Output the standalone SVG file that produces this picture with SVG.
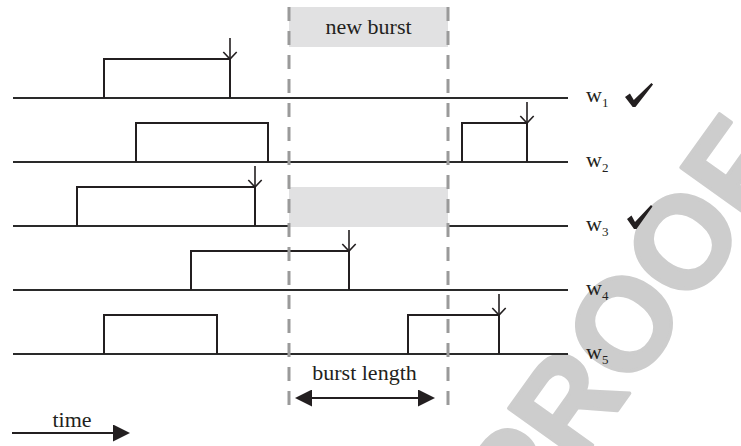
<svg xmlns="http://www.w3.org/2000/svg" width="741" height="446" viewBox="0 0 741 446">
  <defs>
    <style>
      .base { stroke: #2a2a2a; stroke-width: 1.8; fill: none; }
      .burst { stroke: #231f20; stroke-width: 2; fill: none; }
      .drop { stroke: #231f20; stroke-width: 1.6; fill: none; marker-end: url(#vhead); }
      .slot { fill: #e1e1e2; stroke: none; }
      .guide { stroke: #9a9a9a; stroke-width: 3; stroke-dasharray: 14 10; fill: none; }
      .dim { stroke: #231f20; stroke-width: 2; fill: none; }
      .lbl { font-family: "Liberation Serif", "Times New Roman", serif; fill: #231f20; }
      .big { font-size: 22px; }
      .w { font-size: 22px; }
      .sub { font-size: 13px; }
      .tick { fill: #231f20; }
      .mark { font-family: "Liberation Sans", Arial, sans-serif; font-weight: bold; font-size: 130px; fill: #cdcdcd; stroke: #cdcdcd; stroke-width: 3.5; stroke-linejoin: round; }
    </style>
    <marker id="vhead" markerUnits="userSpaceOnUse" viewBox="-1 -1 10 16" refX="7" refY="6.7" markerWidth="10" markerHeight="16" orient="auto">
      <path d="M0,0 L7,6.7 L0,13.4" fill="none" stroke="#231f20" stroke-width="1.6"/>
    </marker>
    <marker id="fhead" markerUnits="userSpaceOnUse" viewBox="0 0 17 17" refX="15" refY="8.5" markerWidth="17" markerHeight="17" orient="auto-start-reverse">
      <path d="M0,0 L17,8.5 L0,17 Z" fill="#231f20"/>
    </marker>
    <path id="check" d="M0,14 L4.5,10.5 L8,17 L24,0 L25.5,1.5 L9.5,24 L7,24 Z"/>
  </defs>

  <!-- watermark -->
  <text class="mark" transform="translate(526,538) rotate(-54.4)">PROOF</text>

  <!-- channel w1 -->
  <g id="w1">
    <line class="base" x1="13" y1="98" x2="568" y2="98"/>
    <polyline class="burst" points="104,98 104,59 230,59 230,98"/>
    <line class="drop" x1="230" y1="38" x2="230" y2="59"/>
    <text class="lbl w" x="586" y="102">w<tspan class="sub" dy="5">1</tspan></text>
    <use href="#check" class="tick" transform="translate(625,83) scale(1.1,1)"/>
  </g>

  <!-- channel w2 -->
  <g id="w2">
    <line class="base" x1="13" y1="162" x2="568" y2="162"/>
    <polyline class="burst" points="136,162 136,123 268,123 268,162"/>
    <polyline class="burst" points="462,162 462,123 527,123 527,162"/>
    <line class="drop" x1="527" y1="102" x2="527" y2="123"/>
    <text class="lbl w" x="586" y="167">w<tspan class="sub" dy="5">2</tspan></text>
  </g>

  <!-- channel w3 -->
  <g id="w3">
    <line class="base" x1="13" y1="226" x2="568" y2="226"/>
    <polyline class="burst" points="77,226 77,187 255,187 255,226"/>
    <line class="drop" x1="255" y1="166" x2="255" y2="187"/>
    <rect class="slot" x="289" y="187" width="159" height="40"/>
    <text class="lbl w" x="586" y="231">w<tspan class="sub" dy="5">3</tspan></text>
    <use href="#check" class="tick" transform="translate(627,205)"/>
  </g>

  <!-- channel w4 -->
  <g id="w4">
    <line class="base" x1="13" y1="290" x2="568" y2="290"/>
    <polyline class="burst" points="191,290 191,251 349,251 349,290"/>
    <line class="drop" x1="349" y1="230" x2="349" y2="251"/>
    <text class="lbl w" x="586" y="295">w<tspan class="sub" dy="5">4</tspan></text>
  </g>

  <!-- channel w5 -->
  <g id="w5">
    <line class="base" x1="13" y1="354" x2="568" y2="354"/>
    <polyline class="burst" points="104,354 104,315 217,315 217,354"/>
    <polyline class="burst" points="408,354 408,315 499,315 499,354"/>
    <line class="drop" x1="499" y1="294" x2="499" y2="315"/>
    <text class="lbl w" x="586" y="359">w<tspan class="sub" dy="5">5</tspan></text>
  </g>

  <!-- new burst slot -->
  <g id="new-burst">
    <rect class="slot" x="289" y="7" width="159" height="40"/>
    <text class="lbl big" x="368.5" y="34" text-anchor="middle">new burst</text>
  </g>

  <!-- guides and dimension arrows -->
  <g id="connectors">
    <line class="guide" x1="289" y1="7" x2="289" y2="407"/>
    <line class="guide" x1="448" y1="7" x2="448" y2="407"/>
    <line class="dim" x1="297" y1="398" x2="433" y2="398" marker-start="url(#fhead)" marker-end="url(#fhead)"/>
    <line class="dim" x1="12" y1="433" x2="128" y2="433" marker-end="url(#fhead)"/>
  </g>

  <g id="burst-length">
    <text class="lbl big" x="364.5" y="380" text-anchor="middle">burst length</text>
  </g>
  <g id="time">
    <text class="lbl big" x="72" y="427" text-anchor="middle">time</text>
  </g>
</svg>
